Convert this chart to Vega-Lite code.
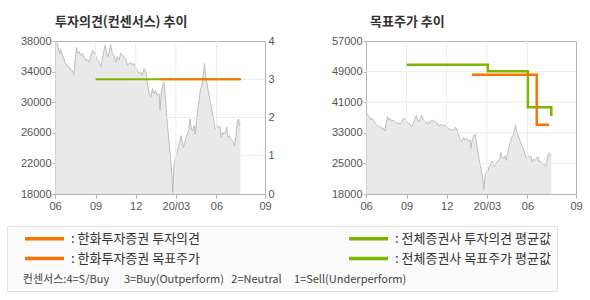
{
  "$schema": "https://vega.github.io/schema/vega-lite/v6.json",
  "padding": {"left": 0, "top": 15, "right": 0, "bottom": 0},
  "background": "white",
  "datasets": {
    "price": [
      {"d":"2019-06-01","p":38000},{"d":"2019-06-05","p":37780},{"d":"2019-06-08","p":37250},{"d":"2019-06-11","p":36380},{"d":"2019-06-14","p":36900},{"d":"2019-06-18","p":36150},{"d":"2019-06-21","p":35700},{"d":"2019-06-25","p":35060},{"d":"2019-06-29","p":34620},{"d":"2019-07-03","p":34700},{"d":"2019-07-07","p":34180},{"d":"2019-07-10","p":34180},{"d":"2019-07-14","p":33520},{"d":"2019-07-17","p":35720},{"d":"2019-07-20","p":37170},{"d":"2019-07-23","p":36380},{"d":"2019-07-26","p":36600},{"d":"2019-07-29","p":36150},{"d":"2019-08-02","p":36290},{"d":"2019-08-06","p":35850},{"d":"2019-08-10","p":35500},{"d":"2019-08-13","p":35590},{"d":"2019-08-17","p":35280},{"d":"2019-08-21","p":35940},{"d":"2019-08-25","p":36820},{"d":"2019-08-28","p":36600},{"d":"2019-09-01","p":36150},{"d":"2019-09-05","p":35500},{"d":"2019-09-09","p":35280},{"d":"2019-09-13","p":34620},{"d":"2019-09-16","p":35500},{"d":"2019-09-20","p":36820},{"d":"2019-09-23","p":37470},{"d":"2019-09-26","p":36380},{"d":"2019-09-29","p":35940},{"d":"2019-10-02","p":36600},{"d":"2019-10-05","p":37560},{"d":"2019-10-09","p":36380},{"d":"2019-10-13","p":35940},{"d":"2019-10-17","p":35280},{"d":"2019-10-20","p":35940},{"d":"2019-10-24","p":35500},{"d":"2019-10-28","p":36380},{"d":"2019-11-01","p":36150},{"d":"2019-11-04","p":35940},{"d":"2019-11-08","p":35720},{"d":"2019-11-12","p":34840},{"d":"2019-11-16","p":35060},{"d":"2019-11-20","p":35150},{"d":"2019-11-23","p":34840},{"d":"2019-11-27","p":35060},{"d":"2019-12-01","p":34400},{"d":"2019-12-05","p":34180},{"d":"2019-12-08","p":33740},{"d":"2019-12-12","p":33960},{"d":"2019-12-16","p":33520},{"d":"2019-12-20","p":34400},{"d":"2019-12-24","p":33960},{"d":"2019-12-27","p":32640},{"d":"2019-12-31","p":31330},{"d":"2020-01-04","p":30670},{"d":"2020-01-08","p":31770},{"d":"2020-01-11","p":31110},{"d":"2020-01-15","p":31550},{"d":"2020-01-19","p":30890},{"d":"2020-01-23","p":31110},{"d":"2020-01-25","p":28900},{"d":"2020-01-28","p":31330},{"d":"2020-01-31","p":32200},{"d":"2020-02-03","p":32640},{"d":"2020-02-06","p":30670},{"d":"2020-02-09","p":28470},{"d":"2020-02-12","p":26280},{"d":"2020-02-15","p":24520},{"d":"2020-02-18","p":22760},{"d":"2020-02-21","p":20560},{"d":"2020-02-23","p":18150},{"d":"2020-02-26","p":21880},{"d":"2020-02-29","p":22760},{"d":"2020-03-03","p":22980},{"d":"2020-03-06","p":24080},{"d":"2020-03-09","p":24520},{"d":"2020-03-12","p":25620},{"d":"2020-03-15","p":24960},{"d":"2020-03-18","p":24080},{"d":"2020-03-21","p":24740},{"d":"2020-03-24","p":25400},{"d":"2020-03-27","p":25840},{"d":"2020-03-30","p":26280},{"d":"2020-04-02","p":27810},{"d":"2020-04-05","p":26500},{"d":"2020-04-08","p":26280},{"d":"2020-04-11","p":26940},{"d":"2020-04-14","p":25840},{"d":"2020-04-17","p":27590},{"d":"2020-04-20","p":29350},{"d":"2020-04-23","p":30450},{"d":"2020-04-26","p":31770},{"d":"2020-04-29","p":32200},{"d":"2020-05-03","p":33960},{"d":"2020-05-05","p":35060},{"d":"2020-05-07","p":33520},{"d":"2020-05-10","p":32640},{"d":"2020-05-13","p":31550},{"d":"2020-05-16","p":30670},{"d":"2020-05-19","p":29790},{"d":"2020-05-22","p":28910},{"d":"2020-05-25","p":28030},{"d":"2020-05-28","p":26720},{"d":"2020-05-31","p":26500},{"d":"2020-06-03","p":26940},{"d":"2020-06-06","p":26720},{"d":"2020-06-09","p":26800},{"d":"2020-06-12","p":25400},{"d":"2020-06-15","p":26060},{"d":"2020-06-18","p":25840},{"d":"2020-06-21","p":26060},{"d":"2020-06-24","p":26720},{"d":"2020-06-27","p":25400},{"d":"2020-06-30","p":25620},{"d":"2020-07-03","p":25180},{"d":"2020-07-06","p":24960},{"d":"2020-07-09","p":24740},{"d":"2020-07-12","p":24300},{"d":"2020-07-15","p":25400},{"d":"2020-07-18","p":27370},{"d":"2020-07-21","p":27810},{"d":"2020-07-23","p":26940},{"d":"2020-07-25","p":27150}
    ],
    "op": [
      {"d":"2019-09-01","v":3,"s":"전체증권사 투자의견 평균값"},
      {"d":"2020-07-27","v":3,"s":"전체증권사 투자의견 평균값"},
      {"d":"2020-01-27","v":3,"s":"한화투자증권 투자의견"},
      {"d":"2020-07-24","v":3,"s":"한화투자증권 투자의견"}
    ],
    "tp": [
      {"d":"2019-09-01","v":50800,"s":"전체증권사 목표주가 평균값"},
      {"d":"2020-03-03","v":49100,"s":"전체증권사 목표주가 평균값"},
      {"d":"2020-06-02","v":39700,"s":"전체증권사 목표주가 평균값"},
      {"d":"2020-07-25","v":37400,"s":"전체증권사 목표주가 평균값"},
      {"d":"2020-01-27","v":48200,"s":"한화투자증권 목표주가"},
      {"d":"2020-06-22","v":35100,"s":"한화투자증권 목표주가"},
      {"d":"2020-07-20","v":35100,"s":"한화투자증권 목표주가"}
    ],
    "xgrid": [{"d":"2019-09-01"},{"d":"2019-12-01"},{"d":"2020-03-01"},{"d":"2020-06-01"}],
    "opgrid": [{"v":1},{"v":2},{"v":3}],
    "tpgrid": [{"v":25000},{"v":33000},{"v":41000},{"v":49000}]
  },
  "config": {
    "view": {"stroke": "#b4b4b4"},
    "axis": {"labelFont": "Liberation Sans", "labelFontSize": 11, "labelColor": "#555", "domainColor": "#b4b4b4", "tickColor": "#b4b4b4", "labelOverlap": false},
    "title": {"anchor": "start", "frame": "group", "font": "Noto Sans CJK KR", "fontSize": 13, "fontWeight": "bold", "color": "#333", "offset": 6, "baseline": "bottom"},
    "legend": {
      "orient": "none", "legendX": -48, "legendY": 185, "columns": 2, "columnPadding": 136, "rowPadding": 6, "clipHeight": 13,
      "symbolType": "stroke", "symbolSize": 1521, "symbolStrokeWidth": 3.5, "symbolOffset": 10, "labelOffset": 5,
      "labelFont": "Noto Sans CJK KR", "labelFontSize": 13, "labelColor": "#333", "labelLimit": 400,
      "titleOrient": "bottom", "titleAnchor": "start", "titleFont": "Noto Sans CJK KR", "titleFontSize": 11, "titleFontWeight": "normal", "titleColor": "#444", "titleLimit": 700, "titlePadding": 8,
      "padding": 6, "fillColor": "#fafafa", "strokeColor": "#e2e2e2"
    }
  },
  "hconcat": [
    {
      "width": 210, "height": 153,
      "title": {"text": "투자의견(컨센서스) 추이"},
      "layer": [
        {
          "data": {"name": "price"},
          "mark": {"type": "area", "color": "#e0e0e0", "clip": true, "line": {"color": "#bdbdbd", "strokeWidth": 1}},
          "encoding": {
            "x": {"field": "d", "type": "temporal", "scale": {"type": "utc", "domain": [{"year":2019,"month":6,"date":1,"utc":true},{"year":2020,"month":9,"date":19,"utc":true}]}, "axis": {"title": null, "values": [{"year":2019,"month":6,"date":1,"utc":true},{"year":2019,"month":9,"date":1,"utc":true},{"year":2019,"month":12,"date":1,"utc":true},{"year":2020,"month":3,"date":1,"utc":true},{"year":2020,"month":6,"date":1,"utc":true},{"year":2020,"month":9,"date":19,"utc":true}], "labelExpr": "utcFormat(datum.value, utcmonth(datum.value) == 2 ? '%y/%m' : '%m')", "grid": false, "tickSize": 4, "labelPadding": 2, "labelFlush": false, "labelOverlap": false, "minExtent": 20, "maxExtent": 20}},
            "y": {"field": "p", "type": "quantitative", "scale": {"domain": [18000, 38000], "zero": false, "nice": false}, "axis": {"title": null, "values": [18000, 22000, 26000, 30000, 34000, 38000], "format": "d", "grid": false, "tickSize": 3, "labelPadding": 1, "labelOverlap": false, "minExtent": 54, "maxExtent": 54}}
          }
        },
        {
          "data": {"name": "xgrid"},
          "mark": {"type": "rule", "color": "#ececec", "strokeWidth": 1},
          "encoding": {
            "x": {"field": "d", "type": "temporal", "scale": {"type": "utc", "domain": [{"year":2019,"month":6,"date":1,"utc":true},{"year":2020,"month":9,"date":19,"utc":true}]}}
          }
        },
        {
          "layer": [
            {
              "data": {"name": "opgrid"},
              "mark": {"type": "rule", "color": "#ececec", "strokeWidth": 1},
              "encoding": {}
            },
            {
              "data": {"name": "op"},
              "transform": [{"filter": "datum.s == '전체증권사 투자의견 평균값'"}],
              "mark": {"type": "line", "strokeWidth": 2},
              "encoding": {
                "x": {"field": "d", "type": "temporal", "scale": {"type": "utc", "domain": [{"year":2019,"month":6,"date":1,"utc":true},{"year":2020,"month":9,"date":19,"utc":true}]}},
                "color": {"field": "s", "type": "nominal", "title": "\u200b\u00a0\u00a0\u00a0\u00a0컨센서스:4=S/Buy\u00a0\u00a0\u00a0\u00a0\u00a0\u00a03=Buy(Outperform)\u00a0\u00a0\u00a02=Neutral\u00a0\u00a0\u00a0\u00a0\u00a01=Sell(Underperform)", "scale": {"domain": ["한화투자증권 투자의견", "한화투자증권 목표주가", "전체증권사 투자의견 평균값", "전체증권사 목표주가 평균값"], "range": ["#f77400", "#f77400", "#7ab800", "#7ab800"]}, "legend": {"labelExpr": "': ' + datum.label + '\u00a0'"}}
              }
            },
            {
              "data": {"name": "op"},
              "transform": [{"filter": "datum.s == '한화투자증권 투자의견'"}],
              "mark": {"type": "line", "strokeWidth": 2},
              "encoding": {
                "x": {"field": "d", "type": "temporal", "scale": {"type": "utc", "domain": [{"year":2019,"month":6,"date":1,"utc":true},{"year":2020,"month":9,"date":19,"utc":true}]}},
                "color": {"field": "s", "type": "nominal", "title": "\u200b\u00a0\u00a0\u00a0\u00a0컨센서스:4=S/Buy\u00a0\u00a0\u00a0\u00a0\u00a0\u00a03=Buy(Outperform)\u00a0\u00a0\u00a02=Neutral\u00a0\u00a0\u00a0\u00a0\u00a01=Sell(Underperform)", "scale": {"domain": ["한화투자증권 투자의견", "한화투자증권 목표주가", "전체증권사 투자의견 평균값", "전체증권사 목표주가 평균값"], "range": ["#f77400", "#f77400", "#7ab800", "#7ab800"]}, "legend": {"labelExpr": "': ' + datum.label + '\u00a0'"}}
              }
            }
          ],
          "encoding": {
            "y": {"field": "v", "type": "quantitative", "scale": {"domain": [0, 4], "nice": false}, "axis": {"title": null, "orient": "right", "values": [0, 1, 2, 3, 4], "grid": false, "ticks": false, "labelPadding": 3, "labelOverlap": false, "minExtent": 20, "maxExtent": 20}}
          }
        }
      ],
      "resolve": {"scale": {"y": "independent"}}
    },
    {
      "width": 210, "height": 153,
      "title": {"text": "목표주가 추이", "dx": 4},
      "layer": [
        {
          "data": {"name": "price"},
          "mark": {"type": "area", "color": "#e0e0e0", "clip": true, "line": {"color": "#bdbdbd", "strokeWidth": 1}},
          "encoding": {
            "x": {"field": "d", "type": "temporal", "scale": {"type": "utc", "domain": [{"year":2019,"month":6,"date":1,"utc":true},{"year":2020,"month":9,"date":19,"utc":true}]}, "axis": {"title": null, "values": [{"year":2019,"month":6,"date":1,"utc":true},{"year":2019,"month":9,"date":1,"utc":true},{"year":2019,"month":12,"date":1,"utc":true},{"year":2020,"month":3,"date":1,"utc":true},{"year":2020,"month":6,"date":1,"utc":true},{"year":2020,"month":9,"date":19,"utc":true}], "labelExpr": "utcFormat(datum.value, utcmonth(datum.value) == 2 ? '%y/%m' : '%m')", "grid": false, "tickSize": 4, "labelPadding": 2, "labelFlush": false, "labelOverlap": false, "minExtent": 20, "maxExtent": 20}},
            "y": {"field": "p", "type": "quantitative", "scale": {"domain": [17000, 57000], "zero": false, "nice": false}, "axis": {"title": null, "values": [17000, 25000, 33000, 41000, 49000, 57000], "labelExpr": "datum.value == 17000 ? '18000' : format(datum.value, 'd')", "grid": false, "tickSize": 3, "labelPadding": 1, "labelOverlap": false, "minExtent": 54, "maxExtent": 54}}
          }
        },
        {
          "data": {"name": "xgrid"},
          "mark": {"type": "rule", "color": "#ececec", "strokeWidth": 1},
          "encoding": {
            "x": {"field": "d", "type": "temporal", "scale": {"type": "utc", "domain": [{"year":2019,"month":6,"date":1,"utc":true},{"year":2020,"month":9,"date":19,"utc":true}]}}
          }
        },
        {
          "data": {"name": "tpgrid"},
          "mark": {"type": "rule", "color": "#ececec", "strokeWidth": 1},
          "encoding": {
            "y": {"field": "v", "type": "quantitative", "scale": {"domain": [17000, 57000], "zero": false, "nice": false}, "axis": {"title": null, "values": [17000, 25000, 33000, 41000, 49000, 57000], "labelExpr": "datum.value == 17000 ? '18000' : format(datum.value, 'd')", "grid": false, "tickSize": 3, "labelPadding": 1, "labelOverlap": false, "minExtent": 54, "maxExtent": 54}}
          }
        },
        {
          "data": {"name": "tp"},
          "transform": [{"filter": "datum.s == '전체증권사 목표주가 평균값'"}],
          "mark": {"type": "line", "interpolate": "step-after", "strokeWidth": 2.5},
          "encoding": {
            "x": {"field": "d", "type": "temporal", "scale": {"type": "utc", "domain": [{"year":2019,"month":6,"date":1,"utc":true},{"year":2020,"month":9,"date":19,"utc":true}]}},
            "y": {"field": "v", "type": "quantitative", "scale": {"domain": [17000, 57000], "zero": false, "nice": false}, "axis": {"title": null, "values": [17000, 25000, 33000, 41000, 49000, 57000], "labelExpr": "datum.value == 17000 ? '18000' : format(datum.value, 'd')", "grid": false, "tickSize": 3, "labelPadding": 1, "labelOverlap": false, "minExtent": 54, "maxExtent": 54}},
            "color": {"field": "s", "type": "nominal", "title": "\u200b\u00a0\u00a0\u00a0\u00a0컨센서스:4=S/Buy\u00a0\u00a0\u00a0\u00a0\u00a0\u00a03=Buy(Outperform)\u00a0\u00a0\u00a02=Neutral\u00a0\u00a0\u00a0\u00a0\u00a01=Sell(Underperform)", "scale": {"domain": ["한화투자증권 투자의견", "한화투자증권 목표주가", "전체증권사 투자의견 평균값", "전체증권사 목표주가 평균값"], "range": ["#f77400", "#f77400", "#7ab800", "#7ab800"]}, "legend": {"labelExpr": "': ' + datum.label + '\u00a0'"}}
          }
        },
        {
          "data": {"name": "tp"},
          "transform": [{"filter": "datum.s == '한화투자증권 목표주가'"}],
          "mark": {"type": "line", "interpolate": "step-after", "strokeWidth": 2.5},
          "encoding": {
            "x": {"field": "d", "type": "temporal", "scale": {"type": "utc", "domain": [{"year":2019,"month":6,"date":1,"utc":true},{"year":2020,"month":9,"date":19,"utc":true}]}},
            "y": {"field": "v", "type": "quantitative", "scale": {"domain": [17000, 57000], "zero": false, "nice": false}, "axis": {"title": null, "values": [17000, 25000, 33000, 41000, 49000, 57000], "labelExpr": "datum.value == 17000 ? '18000' : format(datum.value, 'd')", "grid": false, "tickSize": 3, "labelPadding": 1, "labelOverlap": false, "minExtent": 54, "maxExtent": 54}},
            "color": {"field": "s", "type": "nominal", "title": "\u200b\u00a0\u00a0\u00a0\u00a0컨센서스:4=S/Buy\u00a0\u00a0\u00a0\u00a0\u00a0\u00a03=Buy(Outperform)\u00a0\u00a0\u00a02=Neutral\u00a0\u00a0\u00a0\u00a0\u00a01=Sell(Underperform)", "scale": {"domain": ["한화투자증권 투자의견", "한화투자증권 목표주가", "전체증권사 투자의견 평균값", "전체증권사 목표주가 평균값"], "range": ["#f77400", "#f77400", "#7ab800", "#7ab800"]}, "legend": {"labelExpr": "': ' + datum.label + '\u00a0'"}}
          }
        }
      ]
    }
  ],
  "spacing": 25
}
